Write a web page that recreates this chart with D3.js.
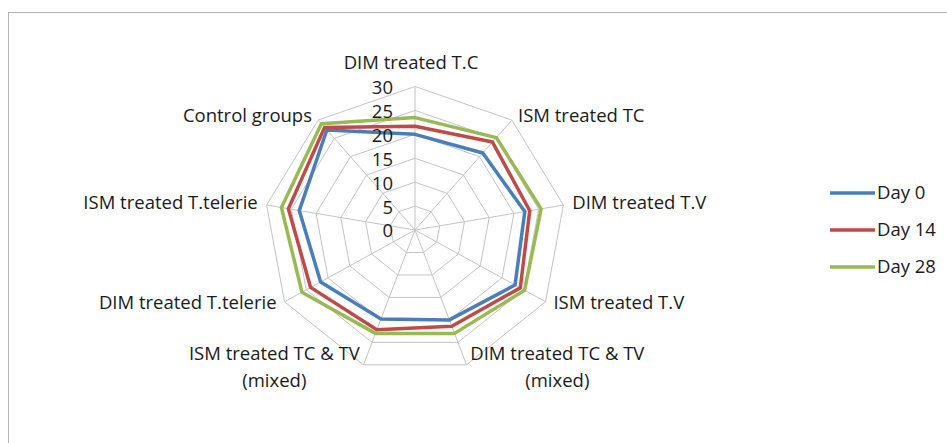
<!DOCTYPE html>
<html>
<head>
<meta charset="utf-8">
<script src="https://cdn.jsdelivr.net/npm/d3@7"></script>
<style>
  body { margin: 0; background: #fff; }
  text { font-family: "Open Sans", Lato, sans-serif; fill: #1a1a1a; }
</style>
</head>
<body>
<div id="chart"></div>
<script>
const categories = [
  "DIM treated T.C",
  "ISM treated TC",
  "DIM treated T.V",
  "ISM treated T.V",
  "DIM treated TC & TV (mixed)",
  "ISM treated TC & TV (mixed)",
  "DIM treated T.telerie",
  "ISM treated T.telerie",
  "Control groups"
];
const seriesNames = ["Day 0", "Day 14", "Day 28"];
const day0 = [20, 21, 22.2, 23, 20, 19.8, 21.7, 23.4, 27.3];
const day14 = [21.7, 24, 23.2, 24.2, 21.4, 22.2, 24, 25.6, 28];
const day28 = [23.5, 25.2, 25.5, 25.2, 23, 23, 26, 27, 29];
const tickValues = [0, 5, 10, 15, 20, 25, 30];

const svgWidth = 947;
const svgHeight = 443;
const cx = 415, cy = 230;
const sx = 1.05; // picture is slightly wider than tall
const fontSize = 18.5;

const svg = d3.select("#chart")
  .append("svg")
  .attr("width", svgWidth)
  .attr("height", svgHeight);

// frame
svg.append("rect")
  .attr("x", 8.5).attr("y", 12.5)
  .attr("width", 980).attr("height", 480)
  .attr("fill", "none")
  .attr("stroke", "#b4b4b4");

const rScale = d3.scaleLinear().domain([0, 30]).range([0, 143.5]);
const aScale = d3.scaleLinear().domain([0, categories.length]).range([0, 2 * Math.PI]);

const pt = (i, v) => {
  const a = aScale(i);
  return [cx + sx * rScale(v) * Math.sin(a), cy - rScale(v) * Math.cos(a)];
};

const closed = d3.line().curve(d3.curveLinearClosed);

// rings
const grid = svg.append("g");
tickValues.filter(t => t > 0).forEach(t => {
  grid.append("path")
    .attr("d", closed(categories.map((c, i) => pt(i, t))))
    .attr("fill", "none")
    .attr("stroke", "#c4c4c4")
    .attr("stroke-width", 1);
});

// spokes
categories.forEach((c, i) => {
  const p = pt(i, 30);
  grid.append("line")
    .attr("x1", cx).attr("y1", cy)
    .attr("x2", p[0]).attr("y2", p[1])
    .attr("stroke", "#c4c4c4")
    .attr("stroke-width", 1);
});

// series
const colors = d3.scaleOrdinal()
  .domain(seriesNames)
  .range(["#4a7ebb", "#be4b48", "#98b954"]);
const seriesData = [day0, day14, day28];

seriesData.forEach((vals, s) => {
  svg.append("path")
    .attr("d", closed(vals.map((v, i) => pt(i, v))))
    .attr("fill", "none")
    .attr("stroke", colors(seriesNames[s]))
    .attr("stroke-width", 3.5)
    .attr("stroke-linejoin", "round");
});

// tick labels
svg.selectAll(".tick-label")
  .data(tickValues)
  .enter()
  .append("text")
  .attr("class", "tick-label")
  .attr("x", cx - 22)
  .attr("y", d => cy - rScale(d) + 2.5)
  .attr("text-anchor", "end")
  .attr("dominant-baseline", "middle")
  .attr("font-size", fontSize)
  .text(d => d);

// category labels
const lineH = 27;
categories.forEach((c, i) => {
  const a = aScale(i);
  const s = Math.sin(a), co = Math.cos(a);
  const tip = pt(i, 30);
  const lines = c.includes(" (") ? [c.slice(0, c.indexOf(" (")), c.slice(c.indexOf(" (") + 1)] : [c];
  let anchor = "middle", x = tip[0], yc;
  if (Math.abs(s) < 0.1) {
    x = tip[0] - 4;
    yc = tip[1] - 22;
  } else {
    const pad = 8 * Math.abs(s) + 1;
    anchor = s > 0 ? "start" : "end";
    x = tip[0] + (s > 0 ? pad : -pad);
    yc = tip[1] - 4 * co;
  }
  const y0 = yc - (lines.length - 1) * lineH / 2;
  const first = svg.append("text")
    .attr("x", x).attr("y", y0)
    .attr("text-anchor", anchor)
    .attr("dominant-baseline", "middle")
    .attr("font-size", fontSize)
    .text(lines[0]);
  if (lines.length > 1) {
    const w = first.node().getComputedTextLength();
    const mid = anchor === "start" ? x + w / 2 : anchor === "end" ? x - w / 2 : x;
    svg.append("text")
      .attr("x", mid).attr("y", y0 + lineH)
      .attr("text-anchor", "middle")
      .attr("dominant-baseline", "middle")
      .attr("font-size", fontSize)
      .text(lines[1]);
  }
});

// legend
const legend = svg.append("g").attr("transform", "translate(830,193)");
seriesNames.forEach((n, i) => {
  legend.append("line")
    .attr("x1", 0).attr("x2", 45)
    .attr("y1", i * 37).attr("y2", i * 37)
    .attr("stroke", colors(n))
    .attr("stroke-width", 3.5);
  legend.append("text")
    .attr("x", 47)
    .attr("y", i * 37 + 1)
    .attr("dominant-baseline", "middle")
    .attr("font-size", fontSize)
    .text(n);
});
</script>
</body>
</html>
